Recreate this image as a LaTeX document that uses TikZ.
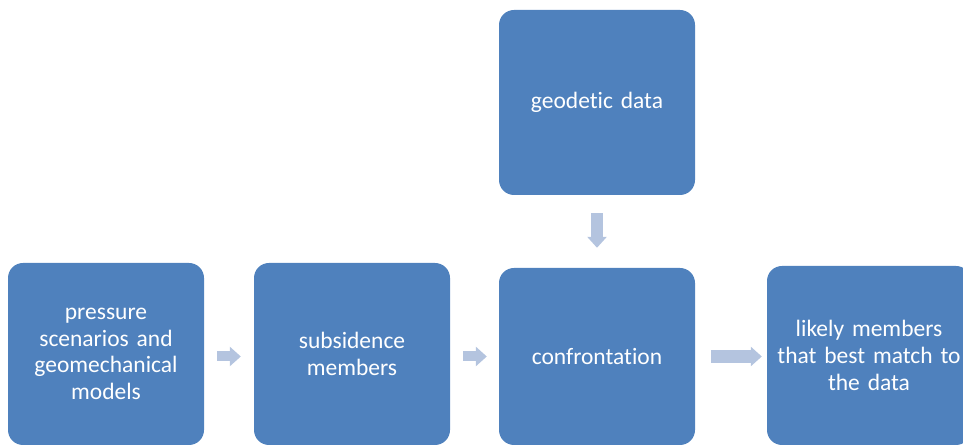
\documentclass[tikz,border=0pt]{standalone}
\usepackage{fontspec}
\setmainfont{Carlito}[Ligatures=NoCommon, WordSpace=0.9]
\usetikzlibrary{calc,arrows.meta}
\definecolor{boxblue}{HTML}{4F81BD}
\definecolor{arrowblue}{HTML}{B4C4DF}
\tikzset{
	stepbox/.style={draw=none, fill=boxblue, rounded corners=15pt, text=white, align=center,
		font=\fontsize{23.5}{26.7}\selectfont, minimum width=196pt, inner sep=4pt},
	blockarrow/.style={draw=arrowblue, line width=#1, -{Triangle[width=19pt,length=11pt]}}
}

\begin{document}
\begin{tikzpicture}[x=1pt,y=1pt]
			%%%%% START %%%%%
			
			\useasboundingbox (0, 0) rectangle (963, 446);
			
			\node[stepbox, minimum height=185pt, text width=188pt] (geo) at (597, 343.5) {geodetic data};
			
			\node[stepbox, minimum height=182pt, text width=170pt] (scen) at (106, 92) {pressure\\scenarios and\\geomechanical\\models};
			\node[stepbox, minimum height=182pt, text width=170pt] (subs) at (352, 92) {subsidence\\members};
			\node[stepbox, minimum height=177pt, text width=188pt] (conf) at (597, 89.5) {confrontation};
			\node[stepbox, minimum height=179pt, minimum width=204pt, text width=196pt] (memb) at (869, 90.5) {likely members\\that best match to\\the data};
			
			\draw[blockarrow=10pt] ($(scen.east)+(13, -2.5)$) -- ($(subs.west)+(-13, -2.5)$);
			\draw[blockarrow=10pt] ($(subs.east)+(13, -2.5)$) -- ($(conf.west)+(-12, 0)$);
			\draw[blockarrow=13pt] ($(conf.east)+(16, 0)$) -- ($(memb.west)+(-5, -1)$);
			\draw[blockarrow=12pt] ($(geo.south)+(0, -18)$) -- ($(conf.north)+(0, 20)$);
			
			%%%%% END %%%%%
\end{tikzpicture}
\end{document}
